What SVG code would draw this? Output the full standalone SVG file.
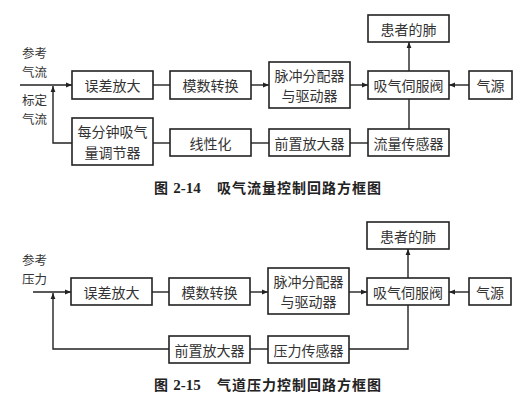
<svg xmlns="http://www.w3.org/2000/svg" width="530" height="408" viewBox="0 0 530 408">
<defs>
<marker id="arr" viewBox="0 0 10 10" refX="10" refY="5" markerWidth="8" markerHeight="6" markerUnits="userSpaceOnUse" orient="auto">
<path d="M0,1 L10,5 L0,9 z" fill="#222"/>
</marker>
<style>
.box{fill:#fff;stroke:#222;stroke-width:1.6}
.t{font-family:"Noto Sans CJK SC","Noto Sans CJK JP",sans-serif;font-size:14px;fill:#333;text-anchor:middle;dominant-baseline:central}
.lbl{font-family:"Noto Sans CJK SC","Noto Sans CJK JP",sans-serif;font-size:12.5px;fill:#333;dominant-baseline:central}
.cap{font-family:"Noto Sans CJK SC","Noto Sans CJK JP",sans-serif;font-size:14px;font-weight:bold;fill:#222;letter-spacing:1px}
.num{font-family:"Liberation Serif",serif;font-weight:bold;font-size:15px;letter-spacing:0}
.ln{fill:none;stroke:#222;stroke-width:1.4}
.ar{fill:none;stroke:#222;stroke-width:1.4;marker-end:url(#arr)}
</style>
</defs>
<rect width="530" height="408" fill="#fff"/>

<!-- Figure 2-14 -->
<g id="connectors14">
<path class="ar" d="M20,85 H72"/>
<path class="ar" d="M72,143 H53 V86"/>
<path class="ln" d="M153,85 H170"/>
<path class="ar" d="M251,85 H269"/>
<path class="ar" d="M350,85 H368"/>
<path class="ar" d="M469,85 H449"/>
<path class="ar" d="M409,72 V42"/>
<path class="ln" d="M409,99 V129"/>
<path class="ln" d="M368,143 H350"/>
<path class="ln" d="M269,143 H251"/>
<path class="ln" d="M170,143 H153"/>
</g>
<text class="lbl" x="22" y="52.5">参考</text>
<text class="lbl" x="22" y="71.5">气流</text>
<text class="lbl" x="22" y="99.5">标定</text>
<text class="lbl" x="22" y="118.5">气流</text>
<g id="err14"><rect class="box" x="72" y="71" width="81" height="28"/><text class="t" x="112.5" y="85">误差放大</text></g>
<g id="adc14"><rect class="box" x="170" y="71" width="81" height="28"/><text class="t" x="210.5" y="85">模数转换</text></g>
<g id="pulse14"><rect class="box" x="269" y="62" width="81" height="46"/><text class="t" x="309.5" y="74.75">脉冲分配器</text><text class="t" x="309.5" y="95.25">与驱动器</text></g>
<g id="valve14"><rect class="box" x="368" y="71" width="81" height="28"/><text class="t" x="408.5" y="85">吸气伺服阀</text></g>
<g id="src14"><rect class="box" x="469" y="71" width="43" height="28"/><text class="t" x="490.5" y="85">气源</text></g>
<g id="lung14"><rect class="box" x="368" y="15" width="81" height="27"/><text class="t" x="408.5" y="28.5">患者的肺</text></g>
<g id="reg14"><rect class="box" x="72" y="118" width="81" height="47"/><text class="t" x="112.5" y="131.25">每分钟吸气</text><text class="t" x="112.5" y="151.75">量调节器</text></g>
<g id="lin14"><rect class="box" x="170" y="129" width="81" height="27"/><text class="t" x="210.5" y="142.5">线性化</text></g>
<g id="pre14"><rect class="box" x="269" y="129" width="81" height="27"/><text class="t" x="309.5" y="142.5">前置放大器</text></g>
<g id="sens14"><rect class="box" x="368" y="129" width="81" height="27"/><text class="t" x="408.5" y="142.5">流量传感器</text></g>
<text class="cap" x="154" y="193">图 <tspan class="num">2-14</tspan><tspan x="217">吸气流量控制回路方框图</tspan></text>

<!-- Figure 2-15 -->
<g id="connectors15">
<path class="ar" d="M33,292 H71"/>
<path class="ar" d="M169,349 H53 V293"/>
<path class="ln" d="M152,292 H169"/>
<path class="ar" d="M250,292 H268"/>
<path class="ar" d="M349,292 H367"/>
<path class="ar" d="M469,292 H449"/>
<path class="ar" d="M408,278 V249"/>
<path class="ln" d="M349,349 H408 V305"/>
<path class="ln" d="M268,349 H250"/>
</g>
<text class="lbl" x="22" y="259">参考</text>
<text class="lbl" x="22" y="278">压力</text>
<g id="err15"><rect class="box" x="71" y="278" width="81" height="27"/><text class="t" x="111.5" y="291.5">误差放大</text></g>
<g id="adc15"><rect class="box" x="169" y="278" width="81" height="27"/><text class="t" x="209.5" y="291.5">模数转换</text></g>
<g id="pulse15"><rect class="box" x="268" y="268" width="81" height="46"/><text class="t" x="308.5" y="280.75">脉冲分配器</text><text class="t" x="308.5" y="301.25">与驱动器</text></g>
<g id="valve15"><rect class="box" x="367" y="278" width="82" height="27"/><text class="t" x="408" y="291.5">吸气伺服阀</text></g>
<g id="src15"><rect class="box" x="469" y="278" width="42" height="27"/><text class="t" x="490" y="291.5">气源</text></g>
<g id="lung15"><rect class="box" x="367" y="222" width="82" height="27"/><text class="t" x="408" y="235.5">患者的肺</text></g>
<g id="pre15"><rect class="box" x="169" y="336" width="81" height="27"/><text class="t" x="209.5" y="349.5">前置放大器</text></g>
<g id="sens15"><rect class="box" x="268" y="336" width="81" height="27"/><text class="t" x="308.5" y="349.5">压力传感器</text></g>
<text class="cap" x="154" y="390">图 <tspan class="num">2-15</tspan><tspan x="217">气道压力控制回路方框图</tspan></text>
</svg>
